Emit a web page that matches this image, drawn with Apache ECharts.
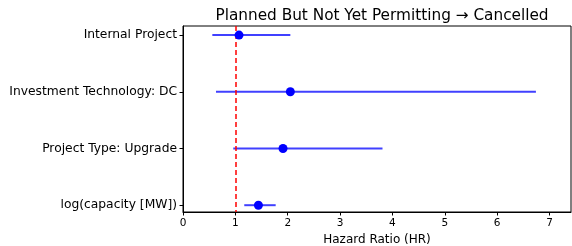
<!DOCTYPE html>
<html>
<head>
<meta charset="utf-8">
<script src="https://cdn.jsdelivr.net/npm/echarts@6/dist/echarts.min.js"></script>
<style>
  html, body { margin: 0; padding: 0; background: #fff; }
  #chart { width: 572px; height: 246px; }
</style>
</head>
<body>
<div id="chart"></div>
<script>
// hazard ratios and confidence intervals, top row first
const categories = ['Internal Project', 'Investment Technology: DC', 'Project Type: Upgrade', 'log(capacity [MW])'];
const hr = [1.07, 2.05, 1.91, 1.44];
const ciLow = [0.56, 0.63, 0.96, 1.17];
const ciHigh = [2.05, 6.74, 3.81, 1.77];
const xTicks = [0, 1, 2, 3, 4, 5, 6, 7];
const refValue = 1;

const font = 'DejaVu Sans';
let myChart = echarts.init(document.getElementById('chart'));

const ciData = categories.map((c, i) => [ciLow[i], ciHigh[i], i]);
const pointData = categories.map((c, i) => [hr[i], i]);

myChart.setOption({
  animation: false,
  title: {
    text: 'Planned But Not Yet Permitting \u2192 Cancelled',
    left: 377, top: 4, textAlign: 'center',
    textStyle: { fontFamily: font, fontSize: 15.3, fontWeight: 'normal', color: '#000' }
  },
  grid: {
    left: 183, right: 1, top: 26, bottom: 34, show: true,
    borderColor: '#000', borderWidth: 1, outerBoundsMode: 'none', containLabel: false
  },
  xAxis: {
    type: 'value', min: 0, max: 7.41, interval: 1,
    name: 'Hazard Ratio (HR)', nameLocation: 'middle', nameGap: 22,
    nameTextStyle: { fontFamily: font, fontSize: 12, color: '#000' },
    axisLine: { show: true, onZero: false, lineStyle: { color: '#000' } },
    axisTick: { show: true, length: 3.5, lineStyle: { color: '#000' }, customValues: xTicks },
    axisLabel: { fontFamily: font, fontSize: 10.5, color: '#000', margin: 6, customValues: xTicks },
    splitLine: { show: false }
  },
  yAxis: {
    type: 'value', min: -0.16, max: 3.12, inverse: true,
    axisLine: { show: true, onZero: false, lineStyle: { color: '#000' } },
    axisTick: { show: true, length: 3.5, lineStyle: { color: '#000' }, customValues: [0, 1, 2, 3] },
    axisLabel: {
      fontFamily: font, fontSize: 12.3, color: '#000', margin: 6,
      customValues: [0, 1, 2, 3],
      formatter: v => categories[Math.round(v)]
    },
    splitLine: { show: false }
  },
  series: [
    {
      type: 'custom',
      data: ciData,
      renderItem: (params, api) => {
        const a = api.coord([api.value(0), api.value(2)]);
        const b = api.coord([api.value(1), api.value(2)]);
        return {
          type: 'line',
          shape: { x1: a[0], y1: a[1], x2: b[0], y2: b[1] },
          style: { stroke: 'rgba(0,0,255,0.75)', lineWidth: 2 }
        };
      },
      z: 2
    },
    {
      type: 'scatter',
      data: pointData,
      symbol: 'circle', symbolSize: 9,
      itemStyle: { color: '#0000ff', opacity: 1 },
      z: 4,
      markLine: {
        silent: true, symbol: 'none', label: { show: false },
        lineStyle: { color: '#ff0000', type: [5, 3], width: 1.5 },
        data: [{ xAxis: refValue }],
        z: 3
      }
    }
  ]
});
</script>
</body>
</html>
